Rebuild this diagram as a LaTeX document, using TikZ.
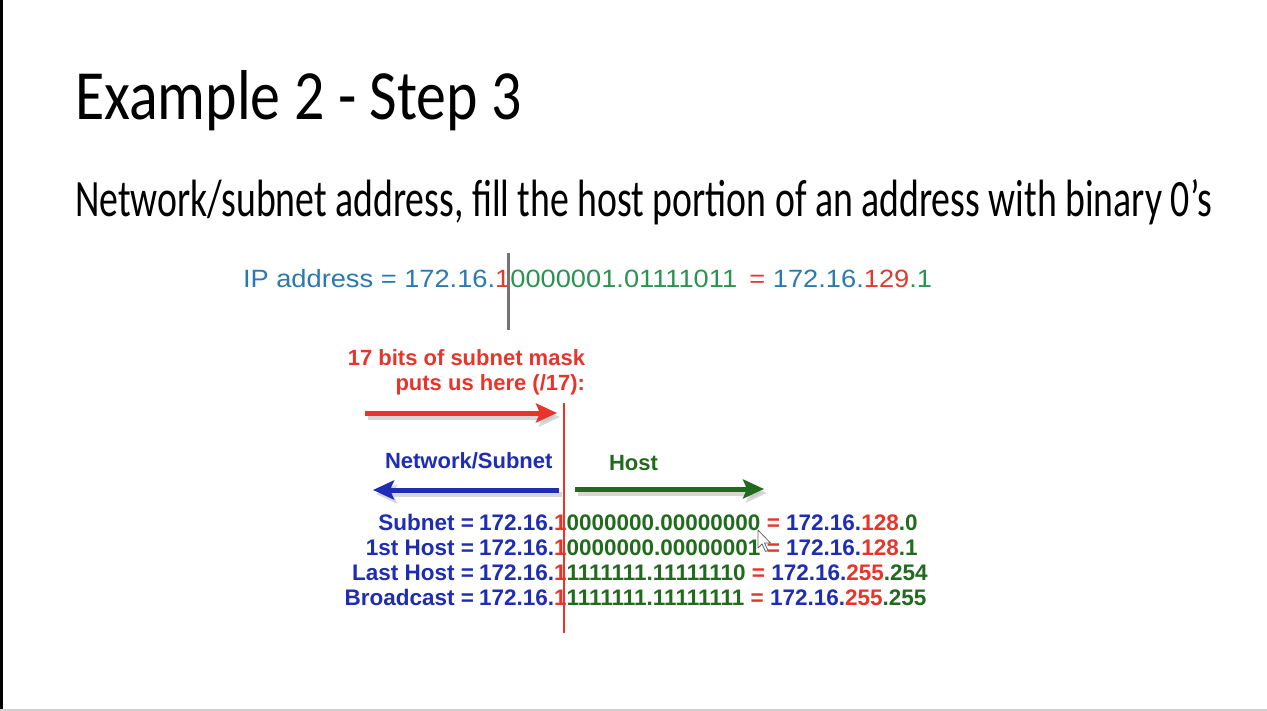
\documentclass[tikz,border=0pt]{standalone}
\usepackage{fontspec}
\setmainfont{Liberation Sans}
\newfontfamily\hand{Carlito}
\usetikzlibrary{arrows.meta}
\definecolor{hred}{HTML}{E8352B}
\definecolor{hblue}{HTML}{1E2DB4}
\definecolor{hgreen}{HTML}{226B1E}
\definecolor{ipblue}{HTML}{2C78B0}
\definecolor{ipred}{HTML}{DD3B2F}
\definecolor{ipgreen}{HTML}{2A9350}
\newcommand{\Bl}[1]{\textcolor{hblue}{#1}}
\newcommand{\Rd}[1]{\textcolor{hred}{#1}}
\newcommand{\Gr}[1]{\textcolor{hgreen}{#1}}
\begin{document}
\begin{tikzpicture}[x=1pt,y=-1pt,
  txt/.style={inner sep=0pt, outer sep=0pt},
  boldtxt/.style={txt, font=\fontsize{22}{22}\selectfont\bfseries},
  rowtxt/.style={txt, font=\fontsize{22.5}{22.5}\selectfont\bfseries},
  bigarrow/.style={line width=5pt, -{Stealth[length=21pt,width=19pt,inset=4pt]}},
  arrowshadow/.style={bigarrow, draw=black!22, opacity=0.7},
  divider/.style={line width=2pt, draw=hred}
]
\useasboundingbox (0,0) rectangle (1267,711);
\fill[white] (0,0) rectangle (1267,711);
\fill[black] (0,0) rectangle (2.5,711);
\fill[black!18] (0,708.5) rectangle (1267,711);

% headings
\node[txt, anchor=base west] (title) at (75,120)
  {\resizebox{447pt}{49pt}{\hand Example 2 - Step 3}};
\node[txt, anchor=base west] (subtitle) at (75,217)
  {\resizebox{1137pt}{37pt}{\hand Network/subnet address, fill the host portion of an address with binary 0’s}};

% IP address line
\node[txt, anchor=base west] (ip) at (243,288)
  {\scalebox{1.09}[1]{\fontsize{25}{25}\selectfont\color{ipblue}IP address = 172.16.\textcolor{ipred}{1}\textcolor{ipgreen}{0000001.01111011}\hspace{0.45em}\textcolor{ipred}{=} 172.16.\textcolor{ipred}{129}\textcolor{ipgreen}{.1}}};
\coordinate (g1) at (508,253);
\coordinate (g2) at (508,330);
\draw[line width=3pt, draw=black!55] (g1) -- (g2);

% red mask text
\node[boldtxt, anchor=base east, text=hred] (mask1) at (585,366) {17 bits of subnet mask};
\node[boldtxt, anchor=base east, text=hred] (mask2) at (585,391) {puts us here (/17):};

% arrows
\coordinate (ra1) at (365,413);
\coordinate (ra2) at (557,413);
\coordinate (ras1) at (368,417);
\coordinate (ras2) at (560,417);
\draw[arrowshadow] (ras1) -- (ras2);
\draw[bigarrow, draw=hred] (ra1) -- (ra2);

\node[boldtxt, anchor=base west, text=hblue] (netlbl) at (385,468) {Network/Subnet};
\node[boldtxt, anchor=base west, text=hgreen] (hostlbl) at (609,470) {Host};

\coordinate (ba1) at (559,490);
\coordinate (ba2) at (373,490);
\coordinate (bas1) at (562,494);
\coordinate (bas2) at (376,494);
\draw[arrowshadow] (bas1) -- (bas2);
\draw[bigarrow, draw=hblue] (ba1) -- (ba2);

\coordinate (ga1) at (575,489);
\coordinate (ga2) at (764,489);
\coordinate (gas1) at (578,493);
\coordinate (gas2) at (767,493);
\draw[arrowshadow] (gas1) -- (gas2);
\draw[bigarrow, draw=hgreen] (ga1) -- (ga2);

% rows
\node[rowtxt, anchor=base east, text=hblue] (l1) at (474,530) {Subnet =};
\node[rowtxt, anchor=base west] (d1) at (479,530) {\Bl{172.16.}\Rd{1}\Gr{0000000.00000000} \Rd{=} \Bl{172.16.}\Rd{128}\Gr{.0}};
\node[rowtxt, anchor=base east, text=hblue] (l2) at (474,555) {1st Host =};
\node[rowtxt, anchor=base west] (d2) at (479,555) {\Bl{172.16.}\Rd{1}\Gr{0000000.00000001} \Rd{=} \Bl{172.16.}\Rd{128}\Gr{.1}};
\node[rowtxt, anchor=base east, text=hblue] (l3) at (474,580) {Last Host =};
\node[rowtxt, anchor=base west] (d3) at (479,580) {\Bl{172.16.}\Rd{1}\Gr{1111111.11111110} \Rd{=} \Bl{172.16.}\Rd{255}\Gr{.254}};
\node[rowtxt, anchor=base east, text=hblue] (l4) at (474,605) {Broadcast =};
\node[rowtxt, anchor=base west] (d4) at (479,605) {\Bl{172.16.}\Rd{1}\Gr{1111111.11111111} \Rd{=} \Bl{172.16.}\Rd{255}\Gr{.255}};

% red divider
\coordinate (v1) at (564,403);
\coordinate (v2) at (564,633);
\draw[divider] (v1) -- (v2);

% mouse cursor
\filldraw[fill=white, draw=black!60, line width=0.8pt, line join=round]
  (758,530) -- (758,548) -- (762,544) -- (765.5,551.5) -- (768,550.5) -- (764.5,543) -- (770.5,543) -- cycle;
\end{tikzpicture}
\end{document}
